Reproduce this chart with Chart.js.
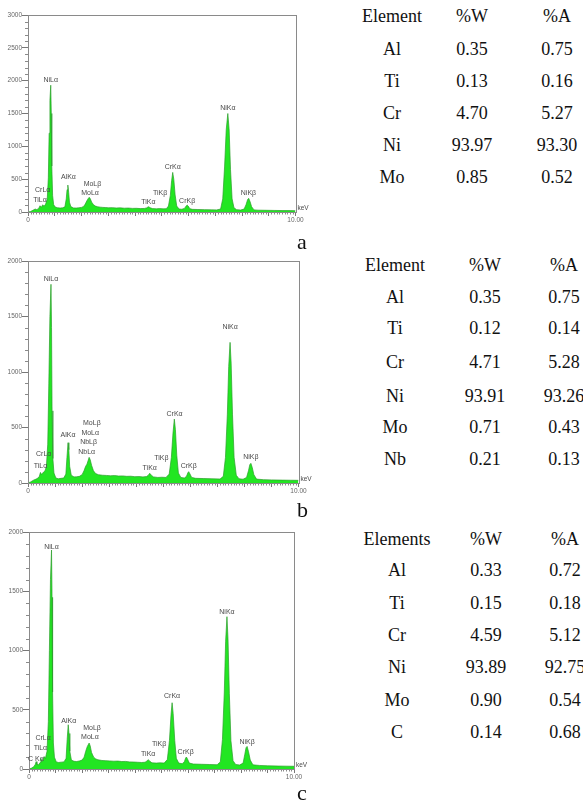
<!DOCTYPE html>
<html>
<head>
<meta charset="utf-8">
<script src="https://cdn.jsdelivr.net/npm/chart.js@4.4.1/dist/chart.umd.min.js"></script>
<style>
  body { margin: 0; background: #fff; }
  #page { position: relative; width: 583px; height: 802px; overflow: hidden; color: #111; }
  canvas { position: absolute; left: 0; }
  .cell, .tag { font-family: "Liberation Serif", "Times New Roman", Times, serif; }
  .cell { position: absolute; width: 100px; margin-left: -50px; margin-top: -10px; text-align: center;
          font-size: 18px; line-height: 20px; white-space: nowrap; }
  .tag { position: absolute; font-size: 22px; line-height: 22px; }
</style>
</head>
<body>
<div id="page">
  <canvas id="chartA" width="320" height="232" style="top:0"></canvas>
  <canvas id="chartB" width="320" height="253" style="top:250px"></canvas>
  <canvas id="chartC" width="320" height="269" style="top:520px"></canvas>
  <div class="tag" style="left:297px;top:231px">a</div>
  <div class="tag" style="left:297px;top:499px">b</div>
  <div class="tag" style="left:297px;top:782px">c</div>
  <div id="tableA"></div>
  <div id="tableB"></div>
  <div id="tableC"></div>
</div>
<script>
// ---- spectrum a ----
const energyA = [
  0, 0.10, 0.20, 0.27, 0.33, 0.40, 0.45, 0.50, 0.55, 0.60,
  0.66, 0.72, 0.76, 0.79, 0.82, 0.85, 0.87, 0.89, 0.92, 0.96,
  1.02, 1.10, 1.20, 1.30, 1.38, 1.43, 1.46, 1.49, 1.52, 1.55,
  1.60, 1.70, 1.80, 1.90, 2.00, 2.08, 2.14, 2.20, 2.26, 2.29,
  2.33, 2.38, 2.45, 2.52, 2.60, 2.70, 2.80, 2.90, 3.00, 3.15,
  3.30, 3.45, 3.60, 3.75, 3.90, 4.05, 4.20, 4.35, 4.43, 4.50,
  4.57, 4.65, 4.80, 4.92, 5.05, 5.17, 5.25, 5.32, 5.37, 5.41,
  5.45, 5.50, 5.56, 5.65, 5.75, 5.85, 5.92, 5.95, 5.99, 6.05,
  6.15, 6.35, 6.60, 6.85, 7.05, 7.20, 7.28, 7.35, 7.41, 7.47,
  7.52, 7.57, 7.63, 7.70, 7.80, 7.95, 8.08, 8.15, 8.21, 8.25,
  8.30, 8.36, 8.45, 8.60, 8.90, 9.20, 9.50, 9.80, 10.00
];
const countsA = [
  0, 8, 30, 45, 36, 55, 95, 72, 110, 88,
  120, 200, 520, 1200, 1700, 1931, 1500, 700, 250, 110,
  75, 65, 60, 64, 80, 200, 340, 410, 300, 150,
  82, 62, 60, 64, 70, 85, 120, 170, 210, 223,
  200, 150, 110, 90, 80, 74, 70, 68, 64, 66,
  61, 63, 58, 60, 55, 56, 52, 54, 62, 81,
  65, 52, 48, 52, 48, 50, 90, 250, 480, 603,
  500, 260, 90, 45, 42, 55, 95, 106, 90, 50,
  40, 38, 36, 33, 32, 45, 200, 700, 1250, 1500,
  1250, 650, 200, 65, 35, 30, 45, 110, 190, 208,
  160, 80, 32, 28, 26, 24, 22, 21, 20
];
const peakNamesA = ['NiLα', 'CrLα', 'TiLα', 'AlKα', 'MoLβ', 'MoLα', 'TiKα', 'TiKβ', 'CrKα', 'CrKβ', 'NiKα', 'NiKβ'];
const peakKeVA = [0.85, 0.55, 0.45, 1.51, 2.41, 2.32, 4.50, 4.94, 5.41, 5.95, 7.47, 8.24];
const peakTagA = [2002, 335, 182, 537, 421, 294, 157, 284, 689, 167, 1576, 284];

// ---- spectrum b ----
const energyB = [
  0, 0.10, 0.20, 0.30, 0.37, 0.42, 0.46, 0.50, 0.55, 0.58,
  0.63, 0.68, 0.73, 0.77, 0.81, 0.85, 0.87, 0.89, 0.92, 0.96,
  1.03, 1.12, 1.22, 1.32, 1.40, 1.44, 1.48, 1.51, 1.54, 1.60,
  1.70, 1.80, 1.90, 2.00, 2.07, 2.13, 2.18, 2.22, 2.26, 2.30,
  2.35, 2.42, 2.50, 2.60, 2.75, 2.90, 3.05, 3.20, 3.35, 3.50,
  3.65, 3.80, 3.95, 4.10, 4.25, 4.38, 4.45, 4.50, 4.56, 4.64,
  4.80, 4.95, 5.10, 5.22, 5.30, 5.36, 5.41, 5.45, 5.50, 5.56,
  5.65, 5.78, 5.86, 5.91, 5.94, 5.98, 6.05, 6.20, 6.50, 6.80,
  7.10, 7.22, 7.30, 7.37, 7.42, 7.47, 7.51, 7.56, 7.62, 7.70,
  7.80, 7.95, 8.08, 8.15, 8.20, 8.24, 8.29, 8.35, 8.45, 8.70,
  9.00, 9.40, 9.70, 10.00
];
const countsB = [
  0, 10, 25, 35, 45, 60, 95, 78, 90, 100,
  110, 150, 350, 900, 1500, 1790, 1400, 650, 220, 90,
  45, 38, 42, 45, 80, 230, 363, 300, 150, 70,
  55, 56, 60, 75, 110, 150, 170, 200, 231, 210,
  160, 110, 85, 75, 70, 68, 65, 67, 63, 64,
  60, 61, 57, 58, 55, 58, 70, 87, 70, 55,
  50, 52, 50, 80, 230, 450, 576, 480, 250, 90,
  50, 45, 60, 92, 102, 85, 50, 42, 40, 38,
  36, 60, 230, 620, 1050, 1267, 1080, 620, 230, 70,
  38, 34, 50, 110, 165, 177, 140, 75, 35, 30,
  28, 26, 25, 24
];
const peakNamesB = ['NiLα', 'CrLα', 'TiLα', 'AlKα', 'MoLβ', 'MoLα', 'NbLβ', 'NbLα', 'TiKα', 'TiKβ', 'CrKα', 'CrKβ', 'NiKα', 'NiKβ'];
const peakKeVB = [0.85, 0.58, 0.46, 1.48, 2.36, 2.30, 2.24, 2.17, 4.50, 4.93, 5.42, 5.94, 7.47, 8.24];
const peakTagB = [1838, 261, 156, 432, 538, 453, 372, 282, 132, 222, 619, 156, 1408, 231];

// ---- spectrum c ----
const energyC = [
  0, 0.10, 0.18, 0.24, 0.27, 0.30, 0.36, 0.42, 0.45, 0.48,
  0.53, 0.57, 0.62, 0.68, 0.73, 0.77, 0.81, 0.85, 0.87, 0.89,
  0.92, 0.96, 1.03, 1.12, 1.22, 1.32, 1.40, 1.44, 1.48, 1.51,
  1.54, 1.60, 1.70, 1.80, 1.90, 2.00, 2.08, 2.14, 2.20, 2.27,
  2.31, 2.36, 2.40, 2.44, 2.52, 2.60, 2.75, 2.90, 3.05, 3.20,
  3.35, 3.50, 3.65, 3.80, 3.95, 4.10, 4.25, 4.38, 4.45, 4.50,
  4.56, 4.64, 4.80, 4.95, 5.10, 5.22, 5.30, 5.36, 5.40, 5.44,
  5.50, 5.56, 5.65, 5.78, 5.86, 5.91, 5.94, 5.98, 6.05, 6.20,
  6.50, 6.80, 7.10, 7.22, 7.30, 7.37, 7.42, 7.47, 7.51, 7.56,
  7.62, 7.70, 7.80, 7.95, 8.08, 8.14, 8.19, 8.23, 8.28, 8.35,
  8.45, 8.70, 9.00, 9.40, 9.70, 10.00
];
const countsC = [
  0, 8, 20, 40, 62, 40, 35, 55, 90, 60,
  75, 105, 90, 150, 400, 1000, 1600, 1850, 1450, 650,
  220, 100, 60, 55, 58, 60, 90, 250, 374, 300,
  150, 75, 65, 63, 68, 75, 100, 150, 190, 219,
  195, 140, 120, 100, 85, 78, 72, 70, 68, 66,
  67, 63, 64, 60, 59, 57, 55, 57, 68, 79,
  66, 52, 50, 52, 50, 80, 240, 460, 560, 470,
  240, 90, 50, 45, 60, 92, 101, 85, 50, 42,
  40, 38, 36, 60, 250, 650, 1080, 1287, 1100, 640,
  240, 70, 38, 34, 50, 120, 180, 191, 150, 75,
  35, 30, 27, 25, 24, 23
];
const peakNamesC = ['NiLα', 'CrLα', 'TiLα', 'C Kα', 'AlKα', 'MoLβ', 'MoLα', 'TiKα', 'TiKβ', 'CrKα', 'CrKβ', 'NiKα', 'NiKβ'];
const peakKeVC = [0.85, 0.53, 0.43, 0.26, 1.50, 2.38, 2.30, 4.50, 4.91, 5.40, 5.91, 7.47, 8.23];
const peakTagC = [1873, 259, 175, 85, 408, 349, 273, 124, 208, 617, 146, 1324, 231];

// ---- composition tables ----
const elementsA = ['Al', 'Ti', 'Cr', 'Ni', 'Mo'];
const weightA = ['0.35', '0.13', '4.70', '93.97', '0.85'];
const atomicA = ['0.75', '0.16', '5.27', '93.30', '0.52'];
const elementsB = ['Al', 'Ti', 'Cr', 'Ni', 'Mo', 'Nb'];
const weightB = ['0.35', '0.12', '4.71', '93.91', '0.71', '0.21'];
const atomicB = ['0.75', '0.14', '5.28', '93.26', '0.43', '0.13'];
const elementsC = ['Al', 'Ti', 'Cr', 'Ni', 'Mo', 'C'];
const weightC = ['0.33', '0.15', '4.59', '93.89', '0.90', '0.14'];
const atomicC = ['0.72', '0.18', '5.12', '92.75', '0.54', '0.68'];

const labelFont = '"Liberation Sans", Arial, sans-serif';

// frame, minor ticks, peak names and the keV unit
const spectrumDecor = {
  id: 'spectrumDecor',
  afterDraw(chart, args, opts) {
    const { ctx, chartArea: a, scales: { x, y } } = chart;
    ctx.save();
    ctx.strokeStyle = '#8a8a8a';
    ctx.lineWidth = 1;
    ctx.strokeRect(Math.round(a.left) + 0.5, Math.round(a.top) + 0.5,
      Math.round(a.right - a.left), Math.round(a.bottom - a.top));

    ctx.beginPath();
    for (let v = 100; v < opts.yMax; v += 100) {
      if (v % 500 === 0) continue;
      const py = Math.round(y.getPixelForValue(v)) + 0.5;
      ctx.moveTo(a.left - 3, py);
      ctx.lineTo(a.left, py);
    }
    for (let i = 1; i < 100; i++) {
      if (i % 10 === 0) continue;
      const px = Math.round(x.getPixelForValue(i / 10)) + 0.5;
      ctx.moveTo(px, a.bottom);
      ctx.lineTo(px, a.bottom + 2.5);
    }
    ctx.stroke();

    ctx.font = '7px ' + labelFont;
    ctx.fillStyle = '#4a4a4a';
    ctx.textAlign = 'center';
    ctx.textBaseline = 'middle';
    opts.names.forEach((n, i) => {
      ctx.fillText(n, x.getPixelForValue(opts.keV[i]), y.getPixelForValue(opts.tags[i]));
    });
    ctx.textAlign = 'left';
    ctx.font = '6.5px ' + labelFont;
    ctx.fillText('keV', a.right + 2, a.bottom - 4);
    ctx.restore();
  }
};

function makeSpectrum(id, energy, counts, yMax, names, keV, tags, box) {
  const points = energy.map((e, i) => ({ x: e, y: counts[i] }));
  return new Chart(document.getElementById(id), {
    type: 'line',
    data: {
      datasets: [{
        data: points,
        fill: 'origin',
        backgroundColor: '#22e622',
        borderColor: '#2b9e2b',
        borderWidth: 0.7,
        pointRadius: 0,
        tension: 0,
      }],
    },
    options: {
      responsive: false,
      animation: false,
      layout: { padding: { top: box.top, right: box.right, left: 0, bottom: 0 } },
      plugins: {
        legend: { display: false },
        tooltip: { enabled: false },
        spectrumDecor: { yMax, names, keV, tags },
      },
      scales: {
        x: {
          type: 'linear', min: 0, max: 10,
          afterFit: (s) => { s.height = 20; },
          grid: { drawOnChartArea: false, tickLength: 4, color: '#777' },
          border: { display: false },
          ticks: {
            stepSize: 1, autoSkip: false, maxRotation: 0, padding: 0,
            color: '#666', font: { family: labelFont, size: 6.5 },
            callback: (v) => (v === 0 ? '0' : v === 10 ? '10.00' : ''),
          },
        },
        y: {
          min: 0, max: yMax,
          afterFit: (s) => { s.width = box.left; },
          grid: { drawOnChartArea: false, tickLength: 6, color: '#777' },
          border: { display: false },
          ticks: {
            stepSize: 500, padding: 0, color: '#666', font: { family: labelFont, size: 6.5 },
            callback: (v) => String(v),
          },
        },
      },
    },
    plugins: [spectrumDecor],
  });
}

function buildTable(id, header, elements, weight, atomic, cols, headerY, rowY) {
  const host = document.getElementById(id);
  let html = '';
  const put = (txt, x, y) => { html += `<div class="cell" style="left:${x}px;top:${y}px">${txt}</div>`; };
  header.forEach((h, j) => put(h, cols[j], headerY));
  elements.forEach((el, i) => {
    put(el, cols[0], rowY[i]);
    put(weight[i], cols[1], rowY[i]);
    put(atomic[i], cols[2], rowY[i]);
  });
  host.innerHTML = html;
}

makeSpectrum('chartA', energyA, countsA, 3000, peakNamesA, peakKeVA, peakTagA, { left: 28, top: 15, right: 24.5 });
makeSpectrum('chartB', energyB, countsB, 2000, peakNamesB, peakKeVB, peakTagB, { left: 28, top: 11, right: 21.5 });
makeSpectrum('chartC', energyC, countsC, 2000, peakNamesC, peakKeVC, peakTagC, { left: 29, top: 12.3, right: 26 });

buildTable('tableA', ['Element', '%W', '%A'], elementsA, weightA, atomicA,
  [392, 472, 557], 16, [49, 81, 113, 145, 177]);
buildTable('tableB', ['Element', '%W', '%A'], elementsB, weightB, atomicB,
  [395, 485, 564], 265, [297, 328, 362, 396, 427, 459]);
buildTable('tableC', ['Elements', '%W', '%A'], elementsC, weightC, atomicC,
  [397, 486, 565], 539, [570, 603, 635, 667, 700, 732]);
</script>
</body>
</html>
